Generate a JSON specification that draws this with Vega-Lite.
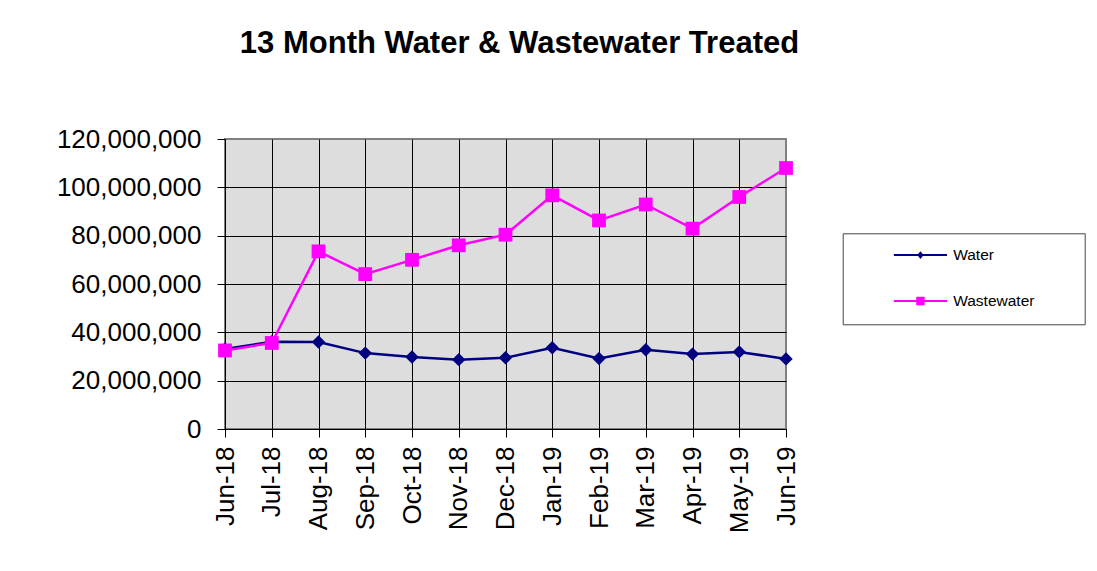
{
  "$schema": "https://vega.github.io/schema/vega-lite/v6.json",
  "width": 561,
  "height": 290,
  "autosize": {"type": "none"},
  "padding": {"left": 225, "top": 139, "right": 311, "bottom": 142},
  "background": "white",
  "title": {
    "text": "13 Month Water & Wastewater Treated",
    "font": "Liberation Sans",
    "fontSize": 31,
    "fontWeight": "bold",
    "color": "black",
    "anchor": "middle",
    "frame": "group",
    "baseline": "alphabetic",
    "offset": 42,
    "dx": 14
  },
  "data": {
    "values": [
      {"month": "Jun-18", "series": "Water", "value": 33100000},
      {"month": "Jul-18", "series": "Water", "value": 36100000},
      {"month": "Aug-18", "series": "Water", "value": 36000000},
      {"month": "Sep-18", "series": "Water", "value": 31400000},
      {"month": "Oct-18", "series": "Water", "value": 29800000},
      {"month": "Nov-18", "series": "Water", "value": 28700000},
      {"month": "Dec-18", "series": "Water", "value": 29500000},
      {"month": "Jan-19", "series": "Water", "value": 33600000},
      {"month": "Feb-19", "series": "Water", "value": 29200000},
      {"month": "Mar-19", "series": "Water", "value": 32800000},
      {"month": "Apr-19", "series": "Water", "value": 31000000},
      {"month": "May-19", "series": "Water", "value": 31900000},
      {"month": "Jun-19", "series": "Water", "value": 29000000},
      {"month": "Jun-18", "series": "Wastewater", "value": 32500000},
      {"month": "Jul-18", "series": "Wastewater", "value": 35600000},
      {"month": "Aug-18", "series": "Wastewater", "value": 73500000},
      {"month": "Sep-18", "series": "Wastewater", "value": 64100000},
      {"month": "Oct-18", "series": "Wastewater", "value": 70000000},
      {"month": "Nov-18", "series": "Wastewater", "value": 76000000},
      {"month": "Dec-18", "series": "Wastewater", "value": 80400000},
      {"month": "Jan-19", "series": "Wastewater", "value": 96700000},
      {"month": "Feb-19", "series": "Wastewater", "value": 86300000},
      {"month": "Mar-19", "series": "Wastewater", "value": 92900000},
      {"month": "Apr-19", "series": "Wastewater", "value": 82900000},
      {"month": "May-19", "series": "Wastewater", "value": 96000000},
      {"month": "Jun-19", "series": "Wastewater", "value": 108000000}
    ]
  },
  "encoding": {
    "x": {
      "field": "month",
      "type": "ordinal",
      "sort": ["Jun-18", "Jul-18", "Aug-18", "Sep-18", "Oct-18", "Nov-18", "Dec-18", "Jan-19", "Feb-19", "Mar-19", "Apr-19", "May-19", "Jun-19"],
      "scale": {"type": "point", "padding": 0},
      "axis": {
        "title": null,
        "labelAngle": -90,
        "labelFontSize": 26,
        "labelPadding": 9,
        "tickSize": 8,
        "grid": true,
        "gridColor": {"condition": {"test": "datum.value === 'Jun-19'", "value": "transparent"}, "value": "black"}
      }
    },
    "y": {
      "field": "value",
      "type": "quantitative",
      "scale": {"domain": [0, 120000000], "nice": false},
      "axis": {
        "title": null,
        "values": [0, 20000000, 40000000, 60000000, 80000000, 100000000, 120000000],
        "format": ",.0f",
        "labelFontSize": 26,
        "labelPadding": 16,
        "tickSize": 8,
        "grid": true,
        "gridColor": {"condition": {"test": "datum.value === 120000000", "value": "transparent"}, "value": "black"}
      }
    },
    "color": {
      "field": "series",
      "type": "nominal",
      "scale": {"domain": ["Water", "Wastewater"], "range": ["#000080", "#ff00ff"]},
      "legend": {
        "orient": "none",
        "legendX": 617.7,
        "legendY": 94.3,
        "title": null,
        "padding": 14,
        "strokeColor": "#444444",
        "fillColor": "white",
        "labelFont": "Liberation Sans",
        "labelFontSize": 15.5,
        "labelColor": "black",
        "symbolSize": 196,
        "symbolOffset": 56,
        "labelOffset": 25,
        "rowPadding": 29,
        "encode": {
          "symbols": {
            "update": {
              "shape": {"signal": "datum.value === 'Water' ? 'M-3.8,-0.15H3.8V0.15H-3.8Z M0,-0.55L0.45,0L0,0.55L-0.45,0Z M21.4,0' : 'M-3.8,-0.15H3.8V0.15H-3.8Z M-0.6,-0.6H0.6V0.6H-0.6Z M21.4,0'"},
              "fill": {"signal": "datum.value === 'Water' ? '#000080' : '#ff00ff'"},
              "stroke": {"value": "transparent"},
              "strokeWidth": {"value": 0},
              "opacity": {"value": 1},
              "fillOpacity": {"value": 1}
            }
          }
        }
      }
    }
  },
  "layer": [
    {
      "mark": {"type": "line", "strokeWidth": 2.5}
    },
    {
      "transform": [{"filter": "datum.series === 'Water'"}],
      "mark": {"type": "point", "shape": "diamond", "filled": true, "size": 180, "opacity": 1, "strokeWidth": 0}
    },
    {
      "transform": [{"filter": "datum.series === 'Wastewater'"}],
      "mark": {"type": "point", "shape": "square", "filled": true, "size": 190, "opacity": 1, "strokeWidth": 0}
    }
  ],
  "config": {
    "font": "Liberation Sans",
    "view": {"fill": "#dddddd", "stroke": "#808080", "strokeWidth": 2},
    "axis": {
      "labelFont": "Liberation Sans",
      "labelColor": "black",
      "domainColor": "black",
      "domainWidth": 1,
      "tickColor": "black",
      "tickWidth": 1,
      "gridWidth": 1,
      "gridOpacity": 1
    }
  }
}
